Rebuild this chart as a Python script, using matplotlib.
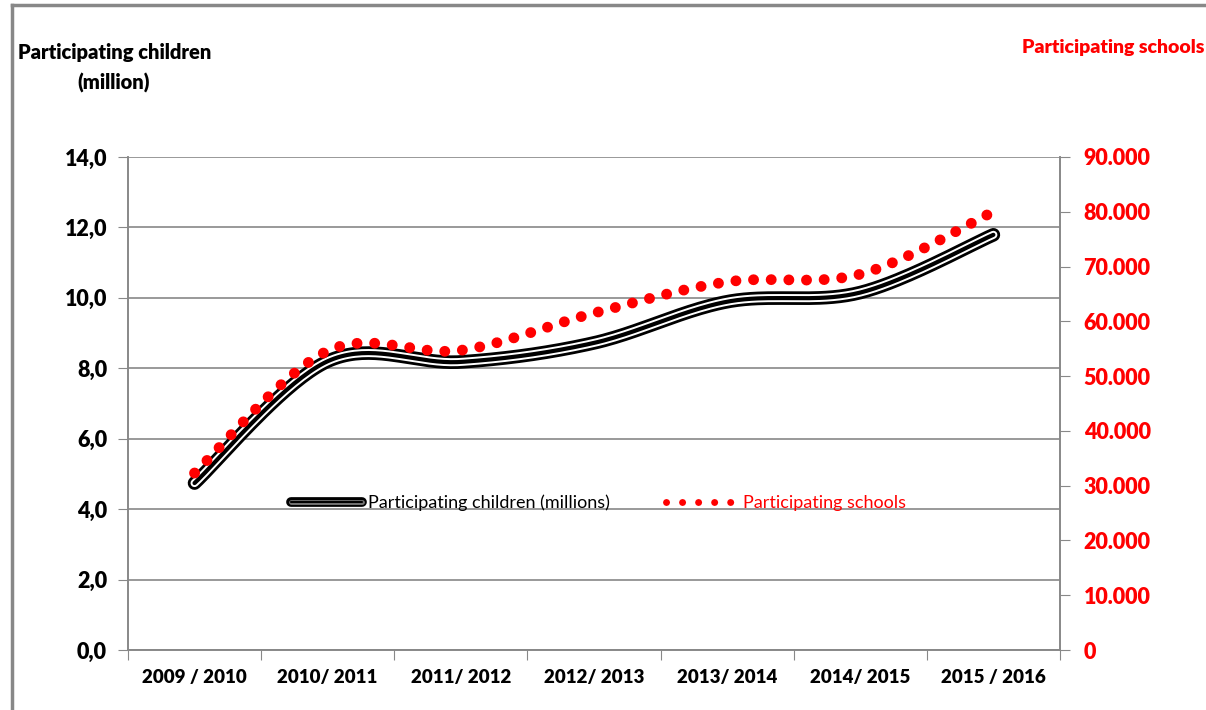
import numpy as np
import matplotlib.pyplot as plt
from matplotlib.lines import Line2D
from matplotlib.ticker import FuncFormatter

plt.rcParams['font.family'] = ['Lato', 'DejaVu Sans']
BOLD = 'heavy'

years = ["2009 / 2010", "2010/ 2011", "2011/ 2012", "2012/ 2013",
         "2013/ 2014", "2014/ 2015", "2015 / 2016"]
children = [4.74, 8.2, 8.18, 8.72, 9.89, 10.15, 11.79]
schools = [32300, 54600, 54700, 61500, 67200, 68600, 80000]


def smooth(x, y, n=40):
    # Excel-style smoothed line: cubic Bezier through points
    p = np.column_stack([x, y]).astype(float)
    p = np.vstack([p[0], p, p[-1]])
    out = []
    for i in range(1, len(p) - 2):
        p0, p1, p2, p3 = p[i - 1], p[i], p[i + 1], p[i + 2]
        c1 = p1 + (p2 - p0) / 6
        c2 = p2 - (p3 - p1) / 6
        t = np.linspace(0, 1, n)[:, None]
        seg = (1 - t) ** 3 * p1 + 3 * (1 - t) ** 2 * t * c1 + 3 * (1 - t) * t ** 2 * c2 + t ** 3 * p2
        out.append(seg if i == 1 else seg[1:])
    s = np.vstack(out)
    return s[:, 0], s[:, 1]


fig = plt.figure(figsize=(12.06, 7.10), dpi=100)
ax = fig.add_axes([0.1061, 0.0845, 0.7728, 0.6944])
ax2 = ax.twinx()

xi = np.arange(len(years))
sx, sy = smooth(xi, children)
ax.plot(sx, sy, color='black', lw=9.8, solid_capstyle='round', zorder=3)
ax.plot(sx, sy, color='white', lw=5.8, solid_capstyle='round', zorder=4)
ax.plot(sx, sy, color='black', lw=3.0, solid_capstyle='round', zorder=5)

rx, ry = smooth(xi, schools)
ax2.plot(rx, ry, color='#ff0000', lw=7.8, linestyle=(0, (0.01, 1.62)),
         dash_capstyle='round', zorder=6)

ax.set_xlim(-0.5, 6.5)
ax.set_ylim(0, 14)
ax2.set_ylim(0, 90000)
ax.set_yticks(np.arange(0, 14.1, 2))
ax2.set_yticks(np.arange(0, 90001, 10000))
ax.yaxis.set_major_formatter(FuncFormatter(lambda v, p: f"{v:.1f}".replace('.', ',')))
ax2.yaxis.set_major_formatter(FuncFormatter(lambda v, p: "0" if v == 0 else f"{int(v):,}".replace(',', '.')))

ax.set_xticks(np.arange(-0.5, 6.6, 1))
ax.set_xticklabels([])
ax.set_xticks(xi, minor=True)
ax.set_xticklabels(years, minor=True, fontsize=13.5, fontweight=BOLD)
ax.tick_params(axis='x', which='minor', length=0, pad=14)
ax.tick_params(axis='x', which='major', length=7, color='#888888', direction='out')
ax.tick_params(axis='y', length=7, color='#888888', labelsize=15.5, pad=8)
for lab in ax.get_yticklabels():
    lab.set_fontweight(BOLD)
ax2.tick_params(axis='y', length=7, color='#888888', labelsize=15.5, labelcolor='#ff0000', pad=10)
for lab in ax2.get_yticklabels():
    lab.set_fontweight(BOLD)

ax.grid(axis='y', color='#888888', lw=1.2)
ax.set_axisbelow(True)
for a in (ax, ax2):
    a.spines['top'].set_visible(False)
    for s in ('left', 'right', 'bottom'):
        a.spines[s].set_color('#888888')
        a.spines[s].set_linewidth(1.2)

h1 = (Line2D([], [], color='black', lw=7, solid_capstyle='round'),
      Line2D([], [], color='#777777', lw=3.5, solid_capstyle='round'),
      Line2D([], [], color='black', lw=1.5, solid_capstyle='round'))
h2 = Line2D([], [], color='#ff0000', lw=5, linestyle=(0, (0.01, 2.3)), dash_capstyle='round')
leg = ax2.legend([h1, h2], ["Participating children (millions)", "Participating schools"],
                 loc='center left', bbox_to_anchor=(0.158, 0.298), ncol=2, frameon=False,
                 fontsize=13, handlelength=3.9, handletextpad=0.35, columnspacing=3.1)
leg.get_texts()[1].set_color('#ff0000')

fig.text(18 / 1206, 1 - 52 / 710, "Participating children", fontsize=14.5, fontweight=BOLD,
         ha='left', va='center')
fig.text(114 / 1206, 1 - 83 / 710, "(million)", fontsize=14.5, fontweight=BOLD,
         ha='center', va='center')
fig.text(1204 / 1206, 1 - 47 / 710, "Participating schools", fontsize=14, fontweight=BOLD,
         color='#ff0000', ha='right', va='center')

# outer frame of the chart area
fig.add_artist(Line2D([12 / 1206, 1], [1 - 5 / 710, 1 - 5 / 710], color='#888888', lw=2.5,
                      transform=fig.transFigure))
fig.add_artist(Line2D([12 / 1206, 12 / 1206], [0, 1 - 5 / 710], color='#888888', lw=2.5,
                      transform=fig.transFigure))

fig.savefig("out.png", dpi=100)
